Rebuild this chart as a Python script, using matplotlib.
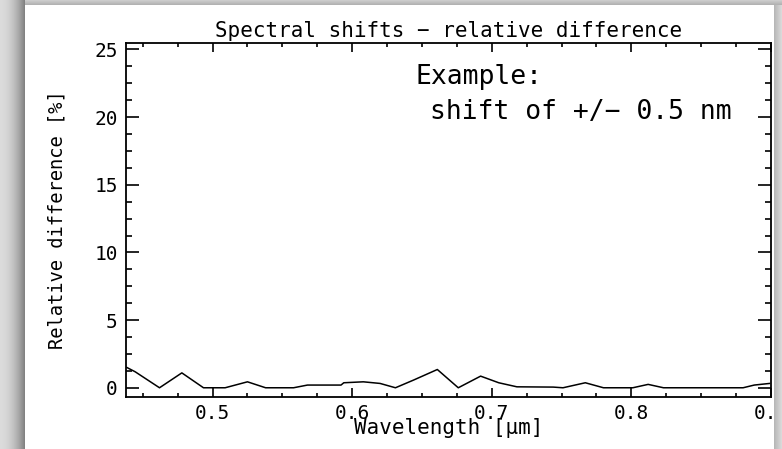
import numpy as np
import matplotlib
matplotlib.use("Agg")
import matplotlib.pyplot as plt
from matplotlib.ticker import MultipleLocator

# wavelength [um] and relative difference [%]
wavelength = [0.4386, 0.4446, 0.462, 0.478, 0.4935, 0.509, 0.525, 0.538, 0.558,
              0.568, 0.592, 0.594, 0.608, 0.620, 0.631, 0.644, 0.661, 0.676,
              0.692, 0.705, 0.718, 0.744, 0.751, 0.767, 0.780, 0.801, 0.812,
              0.823, 0.880, 0.888, 0.899]
rel_diff = [1.5, 1.18, 0.0, 1.1, 0.0, 0.0, 0.44, 0.0, 0.0,
            0.2, 0.2, 0.37, 0.44, 0.32, 0.0, 0.57, 1.35, 0.0,
            0.86, 0.37, 0.07, 0.05, 0.0, 0.37, 0.0, 0.0, 0.25,
            0.0, 0.0, 0.2, 0.32]

title = "Spectral shifts \u2212 relative difference"
note1 = "Example:"
note2 = "shift of +/\u2212 0.5 nm"

plt.rcParams["font.family"] = ["DejaVu Sans Mono", "DejaVu Sans"]

W, H = 782, 449
fig = plt.figure(figsize=(W / 100, H / 100), dpi=100)
fig.patch.set_facecolor("white")

ax = fig.add_axes([126 / W, 1 - 396.7 / H, 645 / W, 354 / H])
ax.plot(wavelength, rel_diff, color="black", lw=1.1)
ax.set_xlim(0.438, 0.9)
ax.set_ylim(-0.66, 25.5)

ax.xaxis.set_major_locator(MultipleLocator(0.1))
ax.xaxis.set_minor_locator(MultipleLocator(0.025))
ax.yaxis.set_major_locator(MultipleLocator(5))
ax.yaxis.set_minor_locator(MultipleLocator(1.25))
ax.xaxis.set_major_formatter(lambda v, p: f"{v:.1f}")
ax.yaxis.set_major_formatter(lambda v, p: f"{v:.0f}")

ax.tick_params(axis="both", which="both", direction="in", top=True, right=True,
               labelsize=14, width=1.2)
ax.tick_params(axis="x", which="major", length=6.5, pad=5)
ax.tick_params(axis="x", which="minor", length=3.2)
ax.tick_params(axis="y", which="major", length=9.4, pad=6)
ax.tick_params(axis="y", which="minor", length=4.3)
for s in ax.spines.values():
    s.set_linewidth(1.3)

ax.set_title(title, fontsize=15, pad=4)
ax.set_xlabel("Wavelength [\u03bcm]", fontsize=15, labelpad=-3)
ax.set_ylabel("Relative difference [%]", fontsize=13.5)
ax.yaxis.set_label_coords(-0.093, 0.5)

# annotation, same font as the rest but larger
fig.text(415 / W, 1 - 84 / H, note1, fontsize=19, ha="left", va="baseline")
fig.text(732 / W, 1 - 119 / H, note2, fontsize=19, ha="right", va="baseline")

# drop-shadow frame around the picture
frame = np.zeros((H, W, 4))
for i in range(25):
    g = 0.86 - 0.35 * (i / 24) ** 2
    frame[:, i, :3] = g
    frame[:, i, 3] = 1
for j in range(5):
    frame[j, 25:, :3] = 0.8 - 0.1 * j / 4
    frame[j, 25:, 3] = 1
for i in range(774, W):
    frame[5:, i, :3] = 0.72 + 0.15 * (i - 774) / 8
    frame[5:, i, 3] = 1
over = fig.add_axes([0, 0, 1, 1], zorder=10)
over.imshow(frame, aspect="auto", interpolation="nearest")
over.axis("off")

fig.savefig("out.png", dpi=100)
